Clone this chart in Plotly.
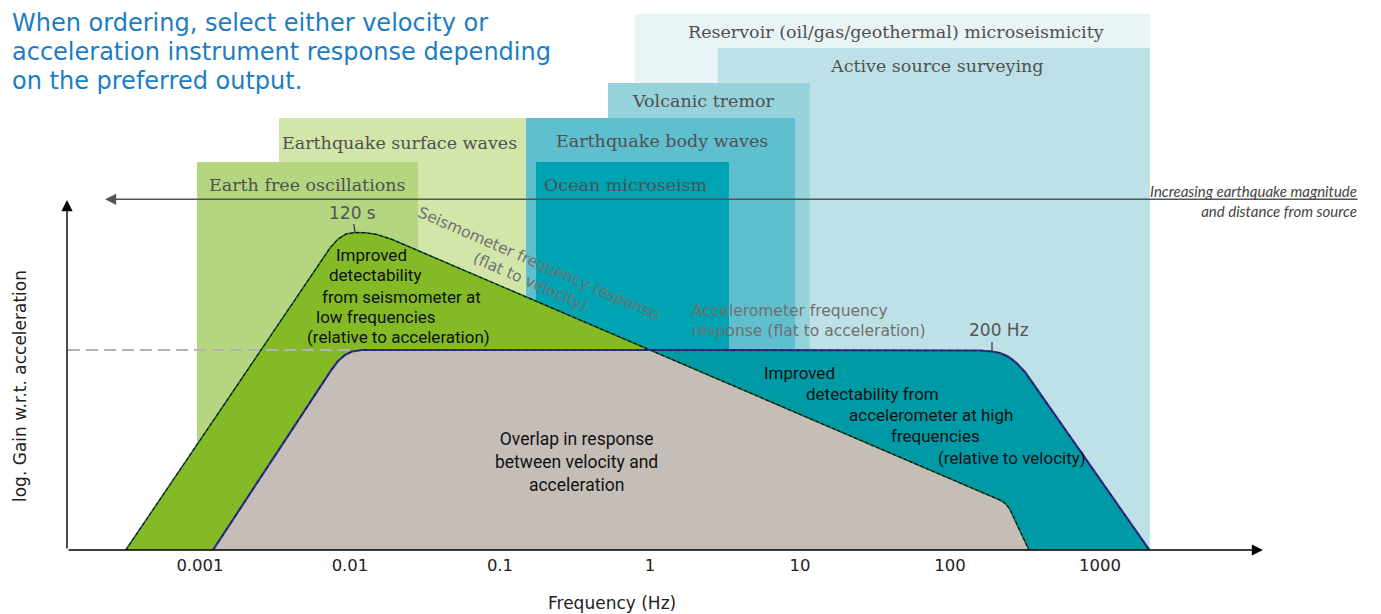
import numpy as np
import plotly.graph_objects as go

# ---------------- data ----------------
tick_vals = [0.001, 0.01, 0.1, 1, 10, 100, 1000]
tick_text = ["0.001", "0.01", "0.1", "1", "10", "100", "1000"]

title_lines = ["When ordering, select either velocity or",
               "acceleration instrument response depending",
               "on the preferred output."]

# frequency bands (Hz) and their heights (log gain units), drawn back to front
band_names = ["Reservoir (oil/gas/geothermal) microseismicity", "Active source surveying",
              "Volcanic tremor", "Earthquake body waves", "Ocean microseism",
              "Earthquake surface waves", "Earth free oscillations"]
band_f_low = [0.79, 2.84, 0.525, 0.149, 0.174, 0.00336, 0.000955]
band_f_high = [2150, 2150, 11.6, 9.26, 3.36, 0.149, 0.0284]
band_top = [5.36, 5.02, 4.67, 4.32, 3.88, 4.32, 3.88]
band_colors = ["#e8f4f6", "#bee1e7", "#95d2dc", "#60bfce", "#00a3b2", "#d3e6aa", "#b4d680"]
band_label_f = [43.6, 81.9, 2.26, 1.2, 0.69, 0.0215, 0.00517]
band_label_g = [5.18, 4.84, 4.49, 4.09, 3.65, 4.07, 3.65]

# seismometer (flat to velocity) response, relative log gain
seis_f = [3.20e-4, 7.36e-3, 8.32e-3, 9.40e-3, 1.08e-2, 1.26e-2, 1.51e-2, 1.91e-2,
          1.0, 215, 232, 250, 336]
seis_g = [0.0, 3.02, 3.11, 3.16, 3.175, 3.173, 3.155, 3.105,
          2.0, 0.50, 0.47, 0.41, 0.0]

# accelerometer (flat to acceleration) response, relative log gain
acc_f = [1.22e-3, 6.81e-3, 7.59e-3, 8.32e-3, 9.26e-3, 1.03e-2, 1.20e-2,
         1.0, 158.5, 190.5, 215.4, 243.7, 275.4, 316.2, 2132]
acc_g = [0.0, 1.71, 1.81, 1.89, 1.95, 1.985, 2.0,
         2.0, 1.995, 1.985, 1.97, 1.935, 1.875, 1.78, 0.0]

crossover_f = 1.0                  # both responses meet here
peak_f, peak_g = 1.08e-2, 3.175    # 120 s corner
corner_f, corner_g = 190.5, 1.985  # 200 Hz corner

# ---------------- page geometry ----------------
W, H = 1373, 606          # page body has an 8 px margin
PLOT_H = 542
x_lo, x_hi = -4.28, 4.8733  # log10 Hz
y_lo, y_hi = 0.0, 5.42


def px(xr):   # paper x from reference pixel
    return (xr - 8) / W


def py(yr):   # paper y from reference pixel
    return (550 - yr) / PLOT_H


fig = go.Figure()

for name, lo, hi, top, col in zip(band_names, band_f_low, band_f_high, band_top, band_colors):
    fig.add_trace(go.Scatter(x=[lo, lo, hi, hi, lo], y=[0, top, top, 0, 0], mode="lines",
                             fill="toself", fillcolor=col, line=dict(width=0),
                             hoverinfo="skip", name=name))

TEAL = "#009aa6"
GREEN = "#83ba25"
GREY = "#c5bdb7"
NAVY = "#2e2f8c"
DGREEN = "#1f5b33"

fig.add_trace(go.Scatter(x=acc_f, y=acc_g, mode="lines", fill="toself", fillcolor=TEAL,
                         line=dict(width=0), hoverinfo="skip"))
fig.add_trace(go.Scatter(x=seis_f, y=seis_g, mode="lines", fill="toself", fillcolor=GREEN,
                         line=dict(width=0), hoverinfo="skip"))
ov_f = [f for f in acc_f if f <= crossover_f] + [f for f in seis_f if f > crossover_f]
ov_g = [g for f, g in zip(acc_f, acc_g) if f <= crossover_f] + \
       [g for f, g in zip(seis_f, seis_g) if f > crossover_f]
fig.add_trace(go.Scatter(x=ov_f, y=ov_g, mode="lines", fill="toself", fillcolor=GREY,
                         line=dict(width=0), hoverinfo="skip"))

# reference flat level (dashed grey)
fig.add_trace(go.Scatter(x=[1.318e-4, 0.0117], y=[acc_g[6], acc_g[6]], mode="lines",
                         line=dict(color="#b3b3b3", width=2, dash="12px,6px"), hoverinfo="skip"))

# outlines
fig.add_trace(go.Scatter(x=seis_f, y=seis_g, mode="lines", line=dict(color=DGREEN, width=1.6),
                         hoverinfo="skip"))
fig.add_trace(go.Scatter(x=seis_f, y=seis_g, mode="lines",
                         line=dict(color="#000000", width=1.0, dash="3px,3px"), hoverinfo="skip"))
fig.add_trace(go.Scatter(x=acc_f, y=acc_g, mode="lines", line=dict(color=NAVY, width=2.2),
                         hoverinfo="skip"))
fig.add_trace(go.Scatter(x=acc_f, y=acc_g, mode="lines",
                         line=dict(color="#111111", width=0.8, dash="3px,5px"), hoverinfo="skip"))

annotations = []
SERIF = "DejaVu Serif"
SANS = "DejaVu Sans, sans-serif"
LATO = "Lato, Roboto, sans-serif"
NARROW = "Liberation Sans Narrow, Roboto, sans-serif"

for name, lf, lg in zip(band_names, band_label_f, band_label_g):
    annotations.append(dict(x=np.log10(lf), y=lg, xref="x", yref="y", text=name, showarrow=False,
                            xanchor="center", yanchor="middle",
                            font=dict(family=SERIF, size=17.5, color="#505050")))

# axes arrows
annotations.append(dict(x=4.0867, y=0, ax=-3.8867, ay=0, xref="x", yref="y", axref="x", ayref="y",
                        text="", showarrow=True, arrowhead=2, arrowsize=1.6, arrowwidth=1.4,
                        arrowcolor="#000000"))
annotations.append(dict(x=-3.8867, y=3.5, ax=-3.8867, ay=0, xref="x", yref="y", axref="x", ayref="y",
                        text="", showarrow=True, arrowhead=2, arrowsize=1.6, arrowwidth=1.4,
                        arrowcolor="#000000"))
# increasing magnitude arrow
annotations.append(dict(x=-3.6333, y=3.507, ax=4.7267, ay=3.507, xref="x", yref="y", axref="x",
                        ayref="y", text="", showarrow=True, arrowhead=2, arrowsize=1.6,
                        arrowwidth=1.4, arrowcolor="#555555"))
annotations.append(dict(x=px(1359), y=py(201), xref="paper", yref="paper",
                        xanchor="right", yanchor="middle", align="right", showarrow=False,
                        text="<i>Increasing earthquake magnitude<br>and distance from source</i>",
                        font=dict(family=LATO, size=15, color="#444444")))

# title, one annotation per line (top-anchored so nothing leaves the page)
for i, line in enumerate(title_lines):
    annotations.append(dict(x=px(11), y=py(8 + 29 * i), xref="paper", yref="paper",
                            xanchor="left", yanchor="top", align="left", showarrow=False,
                            borderpad=0,
                            text=line, font=dict(family=SANS, size=24, color="#1b7dc3")))

# axis titles
annotations.append(dict(x=px(612), y=py(603), xref="paper", yref="paper",
                        xanchor="center", yanchor="middle",
                        showarrow=False, text="Frequency (Hz)",
                        font=dict(family=SANS, size=17, color="#222222")))
annotations.append(dict(x=px(20), y=py(386), xref="paper", yref="paper",
                        xanchor="center", yanchor="middle",
                        showarrow=False, text="log. Gain w.r.t. acceleration", textangle=-90,
                        font=dict(family=SANS, size=17, color="#222222")))

# corner labels
annotations.append(dict(x=np.log10(peak_f), y=peak_g, xref="x", yref="y", text="120 s",
                        showarrow=True, arrowhead=0, arrowwidth=1.2, arrowcolor="#333333",
                        ax=-3, ay=-20, font=dict(family=SANS, size=17, color="#555555")))
annotations.append(dict(x=np.log10(corner_f), y=corner_g, xref="x", yref="y", text="",
                        showarrow=True, arrowhead=0, arrowwidth=1.2, arrowcolor="#333333",
                        ax=0, ay=-11))
annotations.append(dict(x=np.log10(corner_f) + 0.045, y=corner_g + 0.22, xref="x", yref="y",
                        text="200 Hz", showarrow=False,
                        font=dict(family=SANS, size=17, color="#555555")))

# response labels
annotations.append(dict(x=np.log10(0.171), y=2.77, xref="x", yref="y", showarrow=False,
                        text="Seismometer frequency response<br>(flat to velocity)", textangle=23.5,
                        font=dict(family=SANS, size=15.5, color="#707070")))
annotations.append(dict(x=np.log10(1.85), y=2.29, xref="x", yref="y", showarrow=False,
                        xanchor="left", align="left",
                        text="Accelerometer frequency<br>response (flat to acceleration)",
                        font=dict(family=SANS, size=15.5, color="#707070")))

seis_lines = ["Improved", "detectability", "from seismometer at", "low frequencies",
              "(relative to acceleration)"]
seis_line_f = [0.00782, 0.00703, 0.00631, 0.00575, 0.00501]
seis_line_g = [2.95, 2.75, 2.53, 2.33, 2.13]
for t, f, g in zip(seis_lines, seis_line_f, seis_line_g):
    annotations.append(dict(x=np.log10(f), y=g, xref="x", yref="y", text=t, showarrow=False,
                            xanchor="left", font=dict(family=NARROW, size=17, color="#111111")))

acc_lines = ["Improved", "detectability from", "accelerometer at high", "frequencies",
             "(relative to velocity)"]
acc_line_f = [5.58, 10.6, 20.6, 39.2, 80.7]
acc_line_g = [1.77, 1.56, 1.35, 1.14, 0.92]
for t, f, g in zip(acc_lines, acc_line_f, acc_line_g):
    annotations.append(dict(x=np.log10(f), y=g, xref="x", yref="y", text=t, showarrow=False,
                            xanchor="left", font=dict(family=NARROW, size=17, color="#111111")))

annotations.append(dict(x=np.log10(0.326), y=0.88, xref="x", yref="y", showarrow=False,
                        text="Overlap in response<br>between velocity and<br>acceleration",
                        font=dict(family=NARROW, size=17.5, color="#111111")))

fig.update_layout(
    width=W, height=H,
    margin=dict(l=0, r=0, t=0, b=H - PLOT_H, pad=0),
    paper_bgcolor="white", plot_bgcolor="white",
    showlegend=False,
    annotations=annotations,
    xaxis=dict(type="log", range=[x_lo, x_hi], showgrid=False, zeroline=False, showline=False,
               ticks="", tickvals=tick_vals, ticktext=tick_text, ticklabelstandoff=3,
               tickfont=dict(family=SANS, size=16.5, color="#222222"), fixedrange=True,
               automargin=False),
    yaxis=dict(range=[y_lo, y_hi], visible=False, fixedrange=True),
)

fig.write_html("out.html")
